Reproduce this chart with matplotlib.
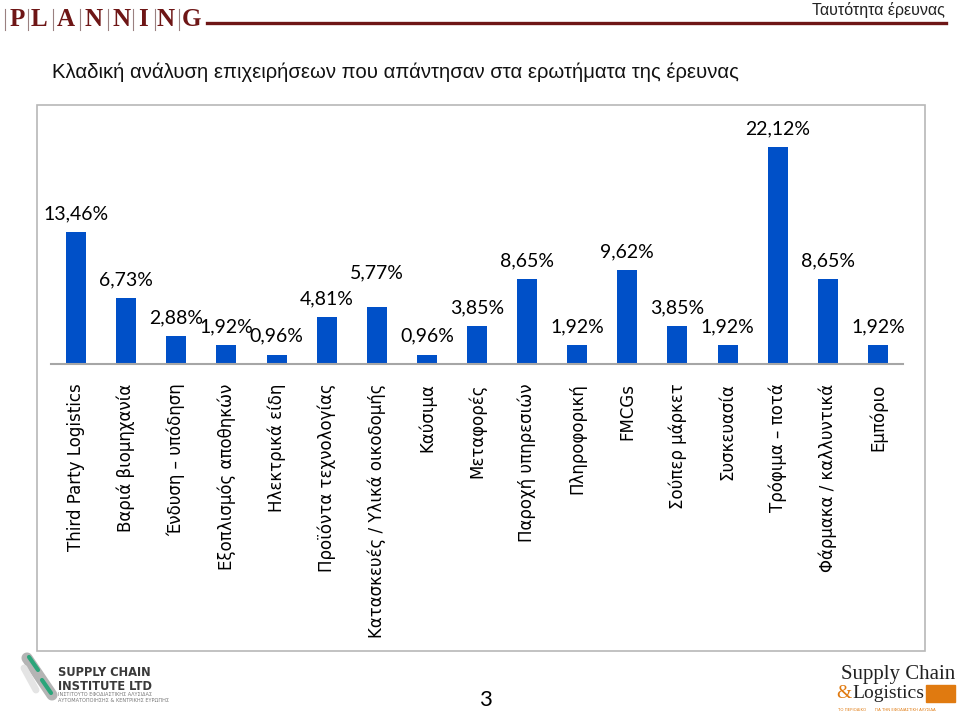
import matplotlib.pyplot as plt
from matplotlib.patches import Rectangle

categories = ['Third Party Logistics', 'Βαριά βιομηχανία', 'Ένδυση – υπόδηση',
              'Εξοπλισμός αποθηκών', 'Ηλεκτρικά είδη', 'Προϊόντα τεχνολογίας',
              'Κατασκευές / Υλικά οικοδομής', 'Καύσιμα', 'Μεταφορές',
              'Παροχή υπηρεσιών', 'Πληροφορική', 'FMCGs', 'Σούπερ μάρκετ',
              'Συσκευασία', 'Τρόφιμα – ποτά', 'Φάρμακα / καλλυντικά', 'Εμπόριο']
values = [13.46, 6.73, 2.88, 1.92, 0.96, 4.81, 5.77, 0.96, 3.85,
          8.65, 1.92, 9.62, 3.85, 1.92, 22.12, 8.65, 1.92]
logo_letters = list('PLANNING')

W, H = 960, 718
fig = plt.figure(figsize=(W / 100, H / 100), dpi=100)
fig.patch.set_facecolor('white')

def fx(px):
    return px / W

def fy(py):
    return 1 - py / H

maroon = '#6e1616'

# header logo: letters separated by thin grey bars
letter_x = [17, 39, 66, 94, 122, 143, 166, 191]
for lx, ch in zip(letter_x, logo_letters):
    fig.text(fx(lx), fy(19), ch, family='Liberation Serif', weight='bold',
             fontsize=18, color=maroon, va='center', ha='center')
bar_x = [5] + [(a + b) / 2 for a, b in zip(letter_x[:-1], letter_x[1:])]
for bx in bar_x:
    fig.add_artist(plt.Line2D([fx(bx), fx(bx)], [fy(9), fy(30)], color='#9a8080', lw=0.8))
fig.add_artist(plt.Line2D([fx(207), fx(946)], [fy(23), fy(23)], color=maroon, lw=2.4))
fig.text(fx(945), fy(10), 'Ταυτότητα έρευνας', family='Liberation Sans', fontsize=11.5,
         ha='right', va='center', color='#222222')
fig.text(fx(52), fy(72), 'Κλαδική ανάλυση επιχειρήσεων που απάντησαν στα ερωτήματα της έρευνας',
         family='Liberation Sans', fontsize=14.6, ha='left', va='center', color='#111111')

# chart frame
fig.add_artist(Rectangle((fx(37), fy(651)), fx(888), 546 / H, fill=False,
                         edgecolor='#b8b8b8', lw=1.2, transform=fig.transFigure))

# plot area: baseline at y=364, 9.81 px per percent
ymax = 25
ax = fig.add_axes([fx(51), fy(364), fx(852), ymax * 9.81 / H])
x = range(len(values))
bars = ax.bar(x, values, width=0.4, color='#0050c8', zorder=2)
ax.set_xlim(-0.5, len(values) - 0.5)
ax.set_ylim(0, ymax)
for s in ['top', 'right', 'left']:
    ax.spines[s].set_visible(False)
ax.spines['bottom'].set_color('#a6a6a6')
ax.spines['bottom'].set_linewidth(1.5)
ax.set_yticks([])
ax.set_xticks(list(x))
ax.set_xticklabels(categories, rotation=90, family='DejaVu Sans', fontsize=12,
                   color='black', va='top', ha='center')
ax.tick_params(axis='x', length=0, pad=14)
ax.patch.set_alpha(0)

labels = [f'{v:.2f}%'.replace('.', ',') for v in values]
ax.bar_label(bars, labels=labels, padding=7, family='Lato', fontsize=14, color='black')
# Excel pushed the 5,77% label up to avoid overlap
for t, lab in zip(ax.texts, labels):
    if lab == '5,77%':
        t.xyann = (t.xyann[0], t.xyann[1] + 12)

# footer: page number
fig.text(fx(485), fy(700), '3', family='Lato', fontsize=16, ha='center', va='center')

# left logo (approximation)
fig.add_artist(plt.Line2D([fx(27), fx(52)], [fy(658), fy(695)], color='#b4b4b4', lw=8,
                          solid_capstyle='round'))
fig.add_artist(plt.Line2D([fx(24), fx(36)], [fy(668), fy(690)], color='#e4e4e4', lw=5,
                          solid_capstyle='round'))
fig.add_artist(plt.Line2D([fx(29), fx(38)], [fy(657), fy(670)], color='#2aa57a', lw=3,
                          solid_capstyle='round'))
fig.add_artist(plt.Line2D([fx(42), fx(51)], [fy(680), fy(693)], color='#2aa57a', lw=3,
                          solid_capstyle='round'))
fig.text(fx(58), fy(673), 'SUPPLY CHAIN', family='DejaVu Sans', weight='bold',
         fontsize=8.3, color='#3a3a3a', va='center')
fig.text(fx(58), fy(686), 'INSTITUTE LTD', family='DejaVu Sans', weight='bold',
         fontsize=8.3, color='#3a3a3a', va='center')
fig.text(fx(58), fy(694), 'ΙΝΣΤΙΤΟΥΤΟ ΕΦΟΔΙΑΣΤΙΚΗΣ ΑΛΥΣΙΔΑΣ', family='DejaVu Sans',
         fontsize=3.6, color='#777777', va='center')
fig.text(fx(58), fy(700), 'ΑΥΤΟΜΑΤΟΠΟΙΗΣΗΣ & ΚΕΝΤΡΙΚΗΣ ΕΥΡΩΠΗΣ', family='DejaVu Sans',
         fontsize=3.6, color='#777777', va='center')

# right logo (approximation)
fig.text(fx(955), fy(674), 'Supply Chain', family='Liberation Serif', fontsize=15,
         ha='right', va='center', color='#222222')
fig.text(fx(836), fy(694), '&', family='Liberation Serif', fontsize=14,
         ha='left', va='center', color='#e07a10')
fig.text(fx(852), fy(694), 'Logistics', family='Liberation Serif', fontsize=14,
         ha='left', va='center', color='#222222')
fig.add_artist(Rectangle((fx(926), fy(702)), fx(29), 17 / H, color='#e07a10',
                         transform=fig.transFigure))
fig.text(fx(838), fy(710), 'ΤΟ ΠΕΡΙΟΔΙΚΟ       ΓΙΑ ΤΗΝ ΕΦΟΔΙΑΣΤΙΚΗ ΑΛΥΣΙΔΑ', family='DejaVu Sans',
         fontsize=2.8, color='#e07a10', va='center')

fig.savefig('out.png', dpi=100)
